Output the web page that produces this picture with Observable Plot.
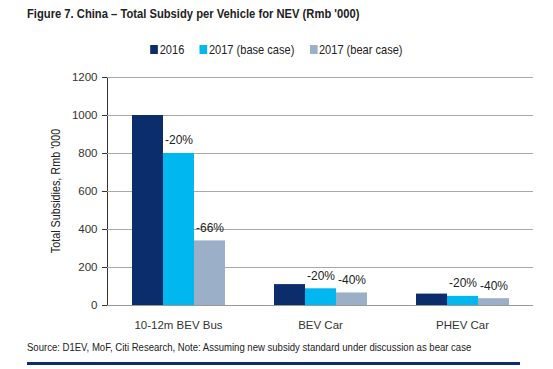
<!DOCTYPE html>
<html><head><meta charset="utf-8">
<script src="https://cdn.jsdelivr.net/npm/d3@7"></script>
<script src="https://cdn.jsdelivr.net/npm/@observablehq/plot@0.6"></script>
<style>
body{margin:0;background:#fff;font-family:"Liberation Sans",Arial,sans-serif;color:#222;}
#wrap{position:relative;width:553px;height:369px;overflow:hidden;}
#title{position:absolute;left:27px;top:6px;font-size:13.5px;font-weight:bold;white-space:nowrap;transform:scaleX(0.83);transform-origin:0 0;}
#legend{position:absolute;left:0;width:553px;top:42px;text-align:center;font-size:13px;white-space:nowrap;transform:scaleX(0.85);transform-origin:276px 0;}
#legend span.item{margin:0 9px;}
#legend span.sw{display:inline-block;width:9px;height:9px;margin-right:2px;vertical-align:0px;}
#chart{position:absolute;left:0;top:65px;}
#ylabel{position:absolute;left:55px;top:191px;font-size:13px;white-space:nowrap;color:#222;transform:translate(-50%,-50%) rotate(-90deg) scaleX(0.83);}
#source{position:absolute;left:27px;top:341px;font-size:11.5px;white-space:nowrap;transform:scaleX(0.83);transform-origin:0 0;}
#rule{position:absolute;left:27px;top:362px;width:493px;height:3px;background:#0b2d6c;}
</style></head>
<body><div id="wrap">
<div id="title">Figure 7. China – Total Subsidy per Vehicle for NEV (Rmb '000)</div>
<div id="legend"></div>
<div id="chart"></div>
<div id="ylabel">Total Subsidies, Rmb '000</div>
<div id="source">Source: D1EV, MoF, Citi Research, Note: Assuming new subsidy standard under discussion as bear case</div>
<div id="rule"></div>
</div>
<script>
const categories = ["10-12m BEV Bus", "BEV Car", "PHEV Car"];
const series = ["2016", "2017 (base case)", "2017 (bear case)"];
const colors = ["#0b2d6c", "#00b8ef", "#9cafc8"];
const v2016 = [1000, 110, 60];
const vBase = [800, 88, 48];
const vBear = [340, 66, 36];
const labelsBase = ["-20%", "-20%", "-20%"];
const labelsBear = ["-66%", "-40%", "-40%"];
const yTicks = [0, 200, 400, 600, 800, 1000, 1200];

const rows = [];
categories.forEach((c, i) => {
  rows.push({cat: c, series: series[0], value: v2016[i], label: ""});
  rows.push({cat: c, series: series[1], value: vBase[i], label: labelsBase[i]});
  rows.push({cat: c, series: series[2], value: vBear[i], label: labelsBear[i]});
});

const legend = document.getElementById("legend");
series.forEach((s, i) => {
  const it = document.createElement("span");
  it.className = "item";
  it.innerHTML = `<span class="sw" style="background:${colors[i]}"></span>${s}`;
  legend.appendChild(it);
});

const chart = Plot.plot({
  width: 553,
  height: 275,
  marginLeft: 107,
  marginRight: 20,
  marginTop: 12,
  marginBottom: 35,
  style: {fontSize: "11.5px", fontFamily: "'Liberation Sans',Arial,sans-serif", color: "#333", background: "white"},
  facet: {data: rows, x: "cat"},
  fx: {domain: categories, padding: 0, label: null, axis: "bottom", tickSize: 0, tickPadding: 15},
  x: {domain: series, paddingInner: 0, paddingOuter: 0.78, axis: null},
  y: {domain: [0, 1200], ticks: yTicks, tickFormat: d3.format("d"), label: null, tickSize: 5, tickPadding: 5, line: true},
  color: {domain: series, range: colors},
  marks: [
    Plot.ruleY(yTicks.filter(d => d > 0), {stroke: "#a8a8a8"}),
    Plot.barY(rows, {x: "series", y: "value", fill: "series"}),
    Plot.ruleY([0], {stroke: "#999"}),
    Plot.text(rows, {filter: d => d.label, x: "series", y: "value", text: "label", dy: -13, fill: "#222", fontSize: 12})
  ]
});
document.getElementById("chart").appendChild(chart);
</script>
</body></html>
